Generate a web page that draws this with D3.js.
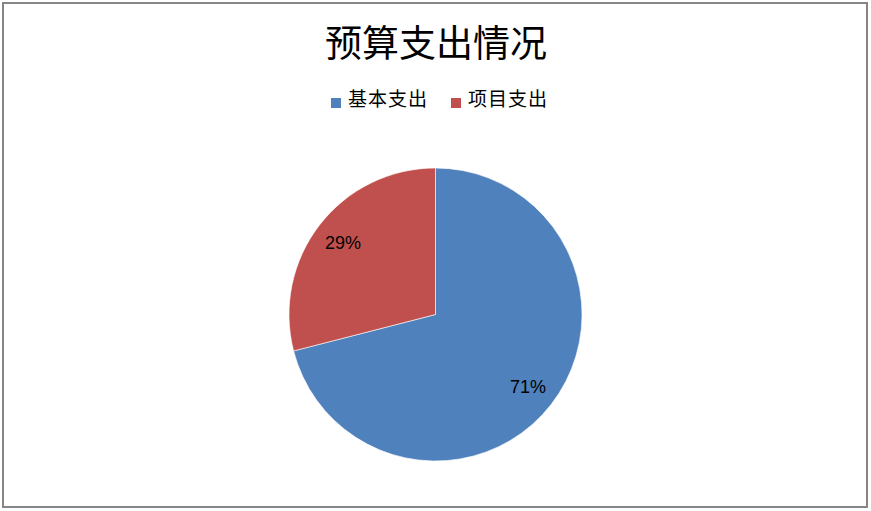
<!DOCTYPE html>
<html>
<head>
<meta charset="utf-8">
<script src="https://cdn.jsdelivr.net/npm/d3@7"></script>
<style>
  body { margin: 0; background: #fff; }
</style>
</head>
<body>
<div id="chart"></div>
<script>
var categories = ["基本支出", "项目支出"];
var values = [71, 29];
var colors = ["#4F81BD", "#C0504D"];
var title = "预算支出情况";

var width = 871, height = 511;

var svg = d3.select("#chart").append("svg")
    .attr("width", width)
    .attr("height", height);

// outer frame
svg.append("rect")
    .attr("x", 3)
    .attr("y", 3)
    .attr("width", 864)
    .attr("height", 504)
    .attr("fill", "#fff")
    .attr("stroke", "#868686")
    .attr("stroke-width", 2);

svg.append("text")
    .attr("x", 436)
    .attr("y", 57)
    .attr("text-anchor", "middle")
    .style("font-family", "'Noto Sans CJK SC'")
    .style("font-size", "37px")
    .attr("fill", "#000")
    .text(title);

// legend
var legendX = [331, 451];
var legend = svg.selectAll(".legend")
    .data(categories)
    .enter().append("g")
    .attr("class", "legend")
    .attr("transform", function (d, i) { return "translate(" + legendX[i] + ",0)"; });

legend.append("rect")
    .attr("x", 0)
    .attr("y", 98)
    .attr("width", 10)
    .attr("height", 10)
    .attr("fill", function (d, i) { return colors[i]; });

legend.append("text")
    .attr("x", 17)
    .attr("y", 106)
    .style("font-family", "'Noto Sans CJK SC'")
    .style("font-size", "19px")
    .style("letter-spacing", "1px")
    .attr("fill", "#000")
    .text(function (d) { return d; });

// pie
var cx = 435.5, cy = 314.5, r = 146.5;

var pie = d3.pie().sort(null).value(function (d) { return d; });
var arcs = pie(values);

var arc = d3.arc().innerRadius(0).outerRadius(r);
var labelArc = d3.arc().innerRadius(r * 0.8).outerRadius(r * 0.8);

var g = svg.append("g").attr("transform", "translate(" + cx + "," + cy + ")");

g.selectAll("path")
    .data(arcs)
    .enter().append("path")
    .attr("d", arc)
    .attr("fill", function (d, i) { return colors[i]; })
    .attr("stroke", "#fff")
    .attr("stroke-width", 0.6);

g.selectAll(".lbl")
    .data(arcs)
    .enter().append("text")
    .attr("class", "lbl")
    .attr("transform", function (d) { return "translate(" + labelArc.centroid(d) + ")"; })
    .attr("dy", "0.36em")
    .attr("text-anchor", "middle")
    .style("font-family", "'Liberation Sans'")
    .style("font-size", "18px")
    .attr("fill", "#000")
    .text(function (d) { return d.data + "%"; });
</script>
</body>
</html>
